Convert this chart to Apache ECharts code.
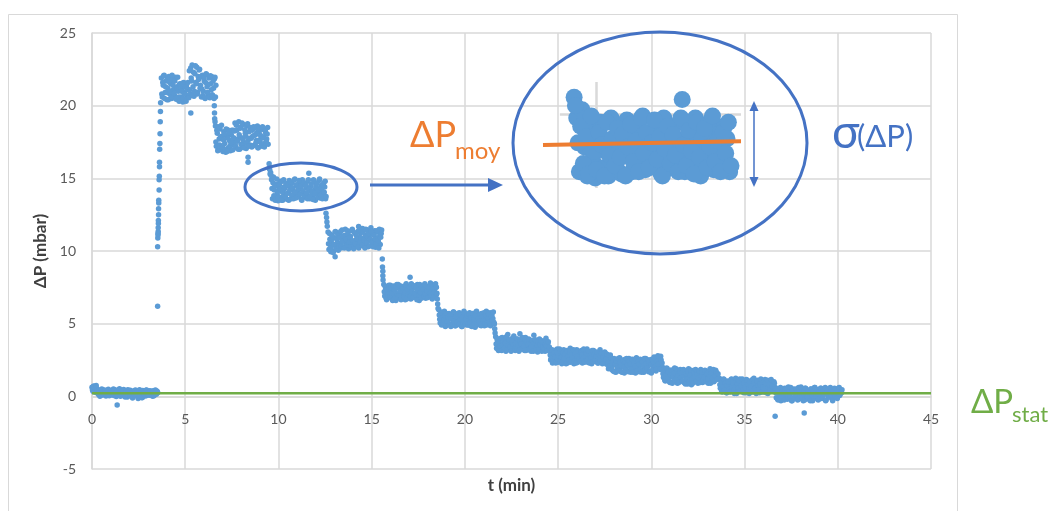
<!DOCTYPE html>
<html><head><meta charset="utf-8">
<script src="https://cdn.jsdelivr.net/npm/echarts@6/dist/echarts.min.js"></script>
<style>html,body{margin:0;padding:0;background:#fff}#c{width:1058px;height:511px}</style>
</head><body><div id="c"></div>
<script>
// ---- data ----
const DT = 0.05; // sampling step of each value list, min (second list is offset by DT/2)
const xTicks = [0,5,10,15,20,25,30,35,40,45];
const yTicks = [-5,0,5,10,15,20,25];
const plateauStart = [0.00, 3.72, 6.62, 9.58, 12.66, 15.65, 18.60, 21.65, 24.55, 27.55, 30.60, 33.65, 36.65];
const pA = [0.62,0.35,0.71,0.48,0.28,0.55,0.41,0.12,0.33,0.05,0.38,0.22,0.46,0.15,0.29,0.02,0.36,0.19,0.44,0.27,0.09,0.4,0.24,0.51,0.13,0.32,-0.02,0.26,0.43,0.17,0.35,0.06,0.3,0.21,0.47,0.11,0.37,0.25,-0.05,0.31,0.18,0.42,0.08,0.28,0.34,0.14,0.39,0.2,0.03,0.33,0.23,0.45,0.1,0.29,-0.08,0.27,0.36,0.16,0.41,0.07,0.3,0.19,0.38,0.12,0.26,0.0,0.34,0.21,0.43,0.15,0.32];
const pA2 = [0.45,0.68,0.3,0.57,0.74,0.38,0.18,0.44,0.01,0.27,0.5,0.09,0.34,0.2,0.41,0.11,0.25,0.48,0.04,0.31,0.39,0.14,0.28,0.06,0.45,0.22,0.37,0.1,0.19,0.52,0.0,0.33,0.16,0.4,0.24,-0.04,0.35,0.13,0.46,0.29,0.07,0.38,0.23,-0.12,0.32,0.17,0.43,0.05,0.27,-0.15,0.36,0.12,0.24,-0.1,0.4,0.19,0.3,0.02,0.44,0.15,0.26,0.08,0.35,0.22,0.11,0.39,0.04,0.28,0.18,0.37,0.25];
const pB = [21.9,20.6,21.4,22.1,20.9,21.7,20.4,21.2,22.0,20.8,21.5,20.5,21.8,21.1,20.7,21.95,20.45,21.3,21.0,20.3,21.5,20.6,21.2,20.25,21.6,20.9,20.4,21.35,20.7,21.1,22.4,20.8,21.9,22.8,21.3,20.65,22.2,21.6,22.65,20.9,21.8,22.5,21.4,20.6,22.1,21.0,21.7,20.5,22.2,21.3,20.8,21.9,20.55,21.5,22.0,20.7,21.2,21.85,20.6];
const pB2 = [20.8,21.6,22.05,20.5,21.3,20.9,21.85,20.4,21.65,21.0,20.6,22.1,21.4,20.85,21.7,20.5,21.25,21.95,20.6,21.45,20.35,21.0,21.55,20.5,20.8,21.3,20.3,21.15,21.6,20.55,21.1,22.6,21.7,20.7,22.3,21.0,22.75,21.5,20.8,22.0,22.45,21.2,22.0,21.15,20.7,21.9,20.55,21.6,22.15,20.9,21.45,20.6,22.05,21.1,20.75,21.7,20.5,21.95,21.4];
const pC = [18.6,17.2,18.1,16.95,17.7,18.4,17.0,17.9,16.85,18.2,17.4,16.8,17.9,18.35,17.1,17.6,16.9,18.0,17.3,18.3,17.5,18.8,17.1,18.3,17.7,18.9,17.0,18.5,17.8,17.2,18.7,17.4,18.1,17.05,18.6,17.6,18.2,17.3,18.4,17.15,17.9,18.55,17.3,18.0,17.6,18.6,17.1,18.2,17.5,18.45,17.2,17.8,18.35,17.4,18.1,17.7,18.5];
const pC2 = [17.5,18.3,16.9,18.55,17.3,17.85,18.65,17.15,17.65,18.05,17.0,18.4,16.85,17.75,18.15,17.2,17.45,18.3,16.95,17.8,18.25,17.25,18.65,17.55,17.0,18.0,18.45,17.35,18.8,17.65,17.1,18.35,17.9,17.45,18.75,17.2,17.75,18.5,17.75,18.3,17.25,17.95,18.5,17.45,18.15,17.1,18.4,17.65,17.95,17.3,18.55,17.85,17.15,18.25,17.55,18.05,17.35];
const pD = [15.4,14.9,13.6,15.1,14.2,13.5,14.6,13.9,13.45,14.4,14.8,13.7,14.1,13.5,14.9,14.3,13.8,14.6,13.55,14.0,14.85,14.4,13.6,14.7,14.2,13.9,14.95,13.65,14.5,14.1,13.8,14.75,14.3,13.55,14.9,14.0,13.7,14.6,14.35,13.85,14.8,15.35,13.6,14.45,14.05,13.75,14.9,14.2,13.5,14.65,14.3,13.9,14.85,13.65,14.5,14.15,13.8,14.7,14.4,13.6];
const pD2 = [15.2,14.3,14.7,13.8,14.45,13.55,14.95,14.1,13.65,14.55,14.25,13.5,14.8,14.0,14.4,13.75,14.65,13.95,14.5,13.5,14.2,14.75,13.85,14.35,13.6,14.9,14.05,14.55,13.7,14.3,14.85,13.9,14.45,13.5,14.15,14.7,13.8,14.5,14.0,13.6,14.9,14.25,13.75,14.6,14.1,13.55,14.8,13.95,14.4,14.65,13.7,14.2,14.95,13.85,14.35,13.6,14.55,14.05,14.8,13.75];
const pE = [11.3,10.1,10.8,9.95,11.1,10.4,10.0,10.9,11.35,10.3,10.6,10.05,11.2,10.5,10.2,11.45,10.7,10.9,10.3,11.1,10.55,11.4,10.15,10.8,11.0,10.4,11.5,10.6,10.25,11.2,10.75,10.45,11.35,10.2,10.95,11.25,10.5,11.55,10.35,10.85,11.1,10.6,11.45,10.3,11.0,10.7,11.6,10.4,11.15,10.55,11.4,10.25,10.9,11.3,10.65,11.5,10.45,11.2];
const pE2 = [10.5,11.2,10.2,10.7,11.0,9.9,10.45,11.3,10.15,10.85,11.1,10.35,10.9,11.35,10.35,10.65,11.05,10.2,11.5,10.8,10.4,11.15,10.6,10.95,10.3,11.4,10.7,10.15,11.25,10.5,11.05,10.85,10.25,11.45,10.6,10.9,10.4,11.3,10.75,10.2,11.5,10.55,10.95,11.2,10.35,10.8,11.35,10.6,10.3,11.1,10.85,10.5,11.4,10.7,10.2,11.05,10.95,11.45];
const pF = [7.7,6.9,7.4,6.65,7.55,7.1,6.8,7.65,7.25,6.7,7.5,6.95,7.35,6.6,7.7,7.0,7.45,6.75,7.6,7.15,6.85,7.5,7.3,6.65,7.75,7.05,6.9,7.55,7.2,6.7,7.4,7.65,6.95,7.1,7.5,6.8,7.7,7.25,6.6,7.45,7.0,7.6,6.85,7.35,7.75,6.75,7.15,7.55,6.9,7.4,7.8,7.05,6.7,7.6,7.3,6.95,7.5];
const pF2 = [7.2,7.55,6.75,7.35,7.0,7.65,6.85,7.45,7.1,6.6,7.6,7.3,6.8,7.5,7.05,7.7,6.95,7.25,6.65,7.55,7.4,6.85,7.15,7.65,6.7,7.35,7.0,7.5,6.9,7.75,7.2,6.8,7.6,7.05,7.45,6.65,7.3,6.95,7.7,7.15,6.75,7.55,7.35,6.9,7.05,7.6,7.25,6.8,7.5,7.1,6.95,7.7,7.4,6.85,7.2,7.75,7.0];
const pG = [5.95,5.3,5.8,4.9,5.6,5.1,5.85,4.8,5.45,5.2,4.95,5.7,5.35,4.8,5.55,5.0,5.8,5.25,4.85,5.65,5.4,4.95,5.75,5.15,5.5,4.8,5.3,5.85,5.05,5.6,4.9,5.45,5.2,5.75,4.85,5.35,5.65,5.0,5.5,4.75,5.8,5.25,5.05,5.6,4.9,5.4,5.7,5.1,5.55,4.85,5.3,5.85,5.0,5.45,5.2,5.75,4.95,5.6,5.35,5.1];
const pG2 = [5.6,5.05,5.4,5.75,4.95,5.25,5.55,4.85,5.7,5.15,5.45,4.9,5.6,5.3,5.0,5.8,5.2,4.85,5.5,5.1,5.7,4.95,5.35,5.6,4.8,5.45,5.15,5.75,5.0,5.3,5.55,4.9,5.65,5.1,5.4,4.8,5.7,5.25,5.0,5.55,5.85,4.95,5.35,5.15,5.65,4.85,5.45,5.2,5.75,5.0,5.55,4.9,5.4,5.65,5.1,4.85,5.5,5.25,5.8,5.0];
const pH = [4.1,3.3,3.8,3.15,3.95,3.5,3.2,4.05,3.6,3.35,3.9,3.1,3.7,4.25,3.4,3.85,3.2,3.65,4.0,3.3,3.55,3.15,3.95,3.45,3.75,3.1,4.3,3.5,3.25,3.8,3.6,3.15,4.05,3.4,3.7,3.2,3.9,3.55,3.1,3.85,3.35,4.2,3.5,3.2,3.75,3.05,3.6,3.95,3.3,3.45,3.15,3.8,3.55,3.1,4.0,3.35,3.65,3.2];
const pH2 = [3.6,3.95,3.25,3.7,3.45,4.0,3.15,3.55,3.85,3.3,3.65,4.1,3.2,3.5,3.9,3.4,3.1,3.75,3.55,4.15,3.25,3.65,3.35,3.95,3.5,3.2,3.8,3.6,4.05,3.3,3.45,3.9,3.15,3.7,3.55,3.95,3.25,3.6,3.4,3.8,3.1,3.65,3.9,3.3,3.5,3.75,3.2,3.55,3.85,3.1,3.4,3.7,3.25,3.6,3.45,3.15,3.75,3.4];
const pI = [3.3,2.5,3.0,2.3,2.85,3.15,2.4,2.7,3.25,2.35,2.95,2.6,3.1,2.25,2.8,3.2,2.45,2.65,3.05,2.3,2.9,2.55,3.3,2.4,2.75,3.1,2.25,2.85,2.6,3.2,2.35,2.95,2.7,2.5,3.15,2.3,2.8,3.0,2.45,2.65,3.25,2.35,2.9,2.55,3.05,2.25,2.75,3.15,2.4,2.85,2.6,3.0,2.3,2.7,3.2,2.45,2.9,2.55,2.35,3.05];
const pI2 = [2.85,2.6,3.2,2.4,2.95,2.7,2.3,3.1,2.55,2.8,3.25,2.45,2.7,2.35,3.0,2.6,2.9,2.25,3.15,2.75,2.5,3.05,2.35,2.85,2.65,3.2,2.45,2.95,2.3,2.75,3.1,2.55,2.4,3.0,2.85,2.6,3.25,2.35,2.7,2.95,2.5,3.1,2.3,2.8,2.65,3.15,2.4,2.9,2.55,2.75,3.05,2.3,2.6,2.85,2.45,3.0,2.25,2.7,2.95,2.5];
const pJ = [2.95,2.2,2.7,1.9,2.55,2.85,2.0,2.4,1.75,2.6,2.15,1.65,2.5,2.3,1.8,2.65,2.05,1.7,2.45,2.25,1.6,2.55,1.95,2.35,1.75,2.6,2.1,1.65,2.5,2.2,1.85,2.4,1.6,2.65,2.0,2.3,1.7,2.55,2.15,1.8,2.45,1.65,2.35,2.6,1.9,2.05,1.7,2.5,2.25,1.6,2.4,1.85,2.7,2.1,1.75,2.55,2.8,1.95,2.3,2.75,2.0];
const pJ2 = [2.55,2.9,2.35,2.8,2.1,2.65,1.85,2.3,2.55,1.7,2.2,2.45,1.95,2.6,1.75,2.35,2.1,1.65,2.5,2.0,2.4,1.8,2.6,2.15,1.7,2.45,2.25,1.9,2.55,1.65,2.3,2.05,2.6,1.75,2.4,2.2,1.85,2.5,1.65,2.35,2.1,2.6,1.8,2.25,1.95,2.5,2.4,1.7,2.15,2.55,1.85,2.35,2.6,2.05,1.9,2.45,2.2,2.7,1.85,2.5,2.3];
const pK = [2.0,1.3,1.75,1.05,1.6,1.9,1.15,1.45,0.95,1.8,1.35,1.0,1.65,1.95,1.2,1.5,0.9,1.7,1.25,1.85,1.05,1.55,1.4,0.95,1.75,1.1,1.6,0.85,1.9,1.3,1.45,0.8,1.65,1.2,1.8,1.0,1.5,1.35,0.9,1.7,1.15,1.85,1.25,0.95,1.6,1.4,1.05,1.75,1.3,0.9,1.55,1.9,1.1,1.45,1.65,1.0,1.35,1.8,1.2,1.5];
const pK2 = [1.55,1.85,1.1,1.4,1.95,1.2,1.7,1.0,1.5,1.8,0.9,1.35,1.6,1.1,1.9,1.25,1.45,0.95,1.75,1.3,1.6,1.05,1.85,1.4,0.85,1.55,1.2,1.7,1.0,1.45,1.8,1.15,0.9,1.6,1.35,1.85,1.05,1.5,1.25,1.75,0.95,1.4,1.65,1.1,1.3,1.8,1.0,1.55,1.2,1.7,1.45,0.9,1.6,1.25,1.85,1.05,1.4,1.7,1.15,1.55];
const pL = [1.25,0.55,1.0,0.3,0.85,1.15,0.4,0.7,0.25,1.05,0.6,0.35,0.95,1.2,0.45,0.8,0.2,1.1,0.65,0.3,0.9,0.5,1.2,0.35,0.75,1.0,0.25,0.85,0.55,1.15,0.4,0.7,0.2,1.05,0.6,0.9,0.3,1.25,0.5,0.8,0.35,1.1,0.65,0.25,0.95,0.45,1.0,0.7,0.3,1.15,0.55,0.85,0.2,1.05,0.4,0.75,0.6,0.95,0.35,0.9];
const pL2 = [0.8,1.1,0.35,0.65,1.2,0.45,0.9,0.25,0.75,1.0,0.5,0.3,1.15,0.7,0.95,0.4,0.6,1.25,0.2,0.85,0.55,1.05,0.35,0.75,1.2,0.45,0.9,0.6,0.25,1.1,0.8,0.5,1.0,0.3,0.7,1.15,0.4,0.95,0.55,0.2,1.05,0.75,0.45,0.85,1.2,0.3,0.65,1.0,0.5,0.9,0.25,1.1,0.6,0.8,0.4,1.15,0.7,0.35,1.0,0.55];
const pM = [0.6,-0.1,0.35,-0.25,0.5,0.1,-0.3,0.45,0.2,-0.15,0.55,0.0,0.3,-0.2,0.65,0.15,-0.05,0.4,-0.3,0.25,0.5,-0.1,0.35,0.05,-0.25,0.6,0.2,-0.15,0.45,0.1,-0.3,0.3,0.55,-0.05,0.25,0.4,-0.2,0.15,0.5,0.0,-0.3,0.35,0.6,-0.1,0.2,0.45,-0.25,0.1,0.3,0.55,-0.15,0.05,0.4,0.25,-0.3,0.5,0.15,-0.05,0.35,0.6,0.0,-0.2,0.45,0.2,0.1,0.5,-0.1,0.3,0.55,0.05,0.4,0.25];
const pM2 = [0.25,0.5,-0.2,0.4,0.05,0.6,-0.1,0.3,0.15,-0.25,0.45,0.2,0.55,-0.05,0.35,0.0,0.6,-0.3,0.25,0.4,-0.15,0.1,0.5,0.3,-0.2,0.45,0.05,0.65,-0.1,0.2,0.35,-0.25,0.55,0.15,-0.05,0.4,0.25,-0.3,0.5,0.1,0.3,-0.15,0.6,0.0,0.45,0.2,-0.2,0.35,0.55,0.05,-0.1,0.4,0.15,0.6,-0.25,0.3,0.5,-0.05,0.2,0.45,0.1,-0.3,0.35,0.55,0.0,0.25,-0.15,0.4,0.6,0.15,0.3,0.45];
const transitions = [[3.52,6.2],[3.52,10.3],[3.53,10.9],[3.54,11.1],[3.54,11.2],[3.55,11.35],[3.55,11.6],[3.56,11.9],[3.56,12.1],[3.57,12.5],[3.57,12.9],[3.58,13.3],[3.58,13.5],[3.6,14.2],[3.6,14.9],[3.61,15.15],[3.62,15.8],[3.62,16.1],[3.63,17.0],[3.64,17.4],[3.65,18.07],[3.66,18.9],[3.67,19.6],[3.68,20.2],
  [6.56,20.0],[6.57,19.5],[6.58,19.1],[6.6,18.9],
  [9.5,16.0],[9.53,15.6],[9.55,15.3],
  [12.55,12.6],[12.58,12.3],[12.6,12.0],[12.62,11.7],
  [15.57,9.45],[15.58,8.9],[15.6,8.6],[15.6,8.3],[15.61,8.0],
  [18.47,7.5],[18.5,7.1],[18.52,6.7],[18.54,6.35],[18.56,6.05],
  [21.58,5.0],[21.6,4.65],[21.62,4.35]];
const outliers = [[1.35,-0.6],[5.3,19.5],[8.37,16.1],[8.37,16.45],[13.04,9.6],[14.3,11.68],[17.06,8.2],[36.64,-1.37],[38.2,-1.14]];
const dPstat = 0.22;                              // mbar, green reference line
const dPmoy = [[8.99,14.25],[12.745,14.34]];      // mean line drawn in the zoomed inset
const insetX = [8.99, 9.31, 12.745];              // inset axis min, crop start, max (min)
const insetY = [13.21, 15.77];                    // inset axis min, max (mbar)
const insetGrid = {x:10, y:15};                   // grid lines visible inside the inset

const listsA = [pA,pB,pC,pD,pE,pF,pG,pH,pI,pJ,pK,pL,pM];
const listsB = [pA2,pB2,pC2,pD2,pE2,pF2,pG2,pH2,pI2,pJ2,pK2,pL2,pM2];
const toPts = (start, vals) => vals.map((v,i) => [+(start + i*DT).toFixed(3), v]);
let mainPts = [];
listsA.forEach((vals,k) => { mainPts = mainPts.concat(toPts(plateauStart[k], vals)); });
listsB.forEach((vals,k) => { mainPts = mainPts.concat(toPts(plateauStart[k] + DT/2, vals)); });
mainPts = mainPts.concat(transitions, outliers);
const insetPts = toPts(plateauStart[3], pD).concat(toPts(plateauStart[3] + DT/2, pD2));

const FONT = 'Lato, "Open Sans", sans-serif';
const BLUE = '#5B9BD5', DARKBLUE = '#4472C4', ORANGE = '#ED7D31', GREEN = '#70AD47', GRID = '#d9d9d9';
const Y0 = yTicks[0], Y1 = yTicks[yTicks.length-1];
const PLOT_TOP = 33, PLOT_H = 436;
const zeroOffset = -PLOT_H * (0 - Y0) / (Y1 - Y0); // put the x axis on the zero line

const chart = echarts.init(document.getElementById('c'));
chart.setOption({
  animation: false,
  backgroundColor: '#fff',
  grid: [
    {left: 92, top: PLOT_TOP, width: 839, height: PLOT_H, containLabel:false, outerBoundsMode:'none'},
    {left: 543, top: 82, width: 198, height: 106, containLabel:false, outerBoundsMode:'none'}
  ],
  xAxis: [
    {type:'value', gridIndex:0, min: xTicks[0], max: xTicks[xTicks.length-1], interval: 5,
     position:'bottom', offset: zeroOffset,
     axisLine:{show:true, onZero:false, lineStyle:{color:GRID, width:1.5}},
     axisTick:{show:false},
     axisLabel:{color:'#595959', fontSize:14, margin:16, fontFamily:FONT},
     splitLine:{show:true, lineStyle:{color:GRID, width:1.5}},
     name:'t (min)', nameLocation:'middle', nameGap:81,
     nameTextStyle:{color:'#404040', fontWeight:'bold', fontSize:17, fontFamily:FONT}},
    {type:'value', gridIndex:1, min:insetX[0], max:insetX[2], show:false}
  ],
  yAxis: [
    {type:'value', gridIndex:0, min: Y0, max: Y1, interval: 5,
     axisLine:{show:true, onZero:false, lineStyle:{color:GRID, width:1.5}},
     axisTick:{show:false},
     axisLabel:{color:'#595959', fontSize:14, margin:16, fontFamily:FONT},
     splitLine:{show:true, lineStyle:{color:GRID, width:1.5}},
     name:'ΔP (mbar)', nameLocation:'middle', nameGap:41,
     nameTextStyle:{color:'#404040', fontWeight:'bold', fontSize:17, fontFamily:FONT}},
    {type:'value', gridIndex:1, min:insetY[0], max:insetY[1], show:false}
  ],
  series: [
    {type:'scatter', name:'ΔP', xAxisIndex:0, yAxisIndex:0, data: mainPts, symbolSize:5.5,
     itemStyle:{color:BLUE, opacity:1}, silent:true, z:2},
    {type:'line', name:'ΔPstat', xAxisIndex:0, yAxisIndex:0,
     data:[[xTicks[0], dPstat],[xTicks[xTicks.length-1], dPstat]], symbol:'none',
     lineStyle:{color:GREEN, width:2.5}, silent:true, z:4},
    {type:'scatter', name:'zoom', xAxisIndex:1, yAxisIndex:1, data: insetPts, symbolSize:17,
     itemStyle:{color:BLUE, opacity:1}, silent:true, z:2,
     markLine:{silent:true, symbol:'none', z:1, label:{show:false},
       lineStyle:{color:GRID, width:2.5, type:'solid'},
       data:[{xAxis: insetGrid.x},
             [{coord:[insetX[1], insetGrid.y]}, {coord:[insetX[2], insetGrid.y]}]]}},
    {type:'line', name:'ΔPmoy', xAxisIndex:1, yAxisIndex:1, data: dPmoy, symbol:'none',
     lineStyle:{color:ORANGE, width:4}, silent:true, z:5}
  ],
  graphic: {elements: [
    {type:'rect', silent:true, z:-1, shape:{x:8.5, y:14.5, width:949, height:520}, style:{fill:'none', stroke:GRID, lineWidth:1}},
    {type:'ellipse', silent:true, z:10, shape:{cx:301, cy:187, rx:56, ry:24}, style:{fill:'none', stroke:DARKBLUE, lineWidth:3}},
    {type:'ellipse', silent:true, z:10, shape:{cx:660, cy:143, rx:147, ry:111}, style:{fill:'none', stroke:DARKBLUE, lineWidth:3}},
    {type:'line', silent:true, z:10, shape:{x1:370, y1:185, x2:490, y2:185}, style:{stroke:DARKBLUE, lineWidth:3}},
    {type:'polygon', silent:true, z:10, shape:{points:[[488,178],[503,185],[488,192]]}, style:{fill:DARKBLUE}},
    {type:'line', silent:true, z:10, shape:{x1:754, y1:108, x2:754, y2:180}, style:{stroke:DARKBLUE, lineWidth:1.5}},
    {type:'polygon', silent:true, z:10, shape:{points:[[749.5,111],[754,101],[758.5,111]]}, style:{fill:DARKBLUE}},
    {type:'polygon', silent:true, z:10, shape:{points:[[749.5,177],[754,187],[758.5,177]]}, style:{fill:DARKBLUE}},
    {type:'text', silent:true, z:10, style:{text:'ΔP', x:410, y:135, fill:ORANGE, font:'36px '+FONT, textAlign:'left', verticalAlign:'middle', textVerticalAlign:'middle'}},
    {type:'text', silent:true, z:10, style:{text:'moy', x:455, y:151, fill:ORANGE, font:'24px '+FONT, textAlign:'left', verticalAlign:'middle', textVerticalAlign:'middle'}},
    {type:'text', silent:true, z:10, style:{text:'σ', x:832, y:133, fill:DARKBLUE, font:'46px '+FONT, textAlign:'left', verticalAlign:'middle', textVerticalAlign:'middle'}},
    {type:'text', silent:true, z:10, style:{text:'(ΔP)', x:857, y:137, fill:DARKBLUE, font:'31px '+FONT, textAlign:'left', verticalAlign:'middle', textVerticalAlign:'middle'}},
    {type:'text', silent:true, z:10, style:{text:'ΔP', x:971, y:402, fill:GREEN, font:'33px '+FONT, textAlign:'left', verticalAlign:'middle', textVerticalAlign:'middle'}},
    {type:'text', silent:true, z:10, style:{text:'stat', x:1012, y:415, fill:GREEN, font:'22px '+FONT, textAlign:'left', verticalAlign:'middle', textVerticalAlign:'middle'}}
  ]}
});
</script></body></html>
